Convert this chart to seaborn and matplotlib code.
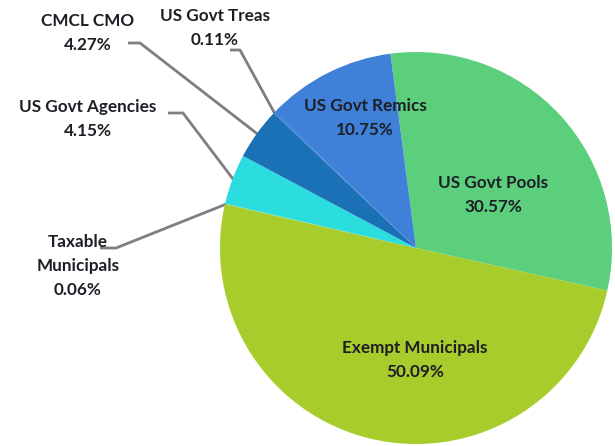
import numpy as np
import matplotlib
matplotlib.use("Agg")
import matplotlib.pyplot as plt
import seaborn as sns

# Portfolio composition by security type (percent of total)
categories = ["US Govt Pools", "Exempt Municipals", "Taxable\nMunicipals",
              "US Govt Agencies", "CMCL CMO", "US Govt Treas", "US Govt Remics"]
shares = [30.57, 50.09, 0.06, 4.15, 4.27, 0.11, 10.75]
colors = ["#5ccf7d", "#a7cc2b", "#7fd65a", "#2cdde0", "#1b71b6", "#2a78c8", "#3f80d8"]

sns.set_theme(style="white")
plt.rcParams["font.family"] = ["Lato", "DejaVu Sans"]

W, H = 615, 446
fig = plt.figure(figsize=(W / 100, H / 100), dpi=100)
ax = fig.add_axes([0, 0, 1, 1])

wedges, _ = ax.pie(shares, colors=colors, startangle=97.5, counterclock=False,
                   wedgeprops=dict(linewidth=0))

# pie centre / radius in pixels, used to lay out labels in figure space
CX, CY, R = 416, 248, 196
ax.set_xlim(-CX / R, (W - CX) / R)
ax.set_ylim(-(H - CY) / R, CY / R)
ax.set_aspect("equal")
ax.axis("off")


def px(x, y):
    return (x - CX) / R, (CY - y) / R


def pct(v):
    return f"{v:.2f}%"


txt = dict(ha="center", va="center", fontsize=12.3, fontweight="bold",
           color="#1e1e26", linespacing=1.6)

# labels inside the large wedges
inside = {0: (493, 195), 1: (415, 360), 6: (365, 118)}
for i, (x, y) in inside.items():
    ax.text(*px(x, y), f"{categories[i]}\n{pct(shares[i])}", **txt)

# outside labels with elbow leader lines to the wedge midpoint
outside = {
    4: ((88, 33), [(128, 43), (140, 43)]),
    5: ((215, 28), [(230, 50), (240, 50)]),
    3: ((88, 119), [(168, 113), (183, 113)]),
    2: ((78, 266), [(100, 248), (116, 248)]),
}
for i, ((x, y), elbow) in outside.items():
    ax.text(*px(x, y), f"{categories[i]}\n{pct(shares[i])}", **txt)
    w = wedges[i]
    mid = np.deg2rad((w.theta1 + w.theta2) / 2)
    pts = [px(*p) for p in elbow] + [(np.cos(mid) * 0.995, np.sin(mid) * 0.995)]
    xs, ys = zip(*pts)
    ax.plot(xs, ys, color="#7f7f7f", lw=2, solid_capstyle="butt", zorder=0)

fig.savefig("out.png", dpi=100, facecolor="white")
